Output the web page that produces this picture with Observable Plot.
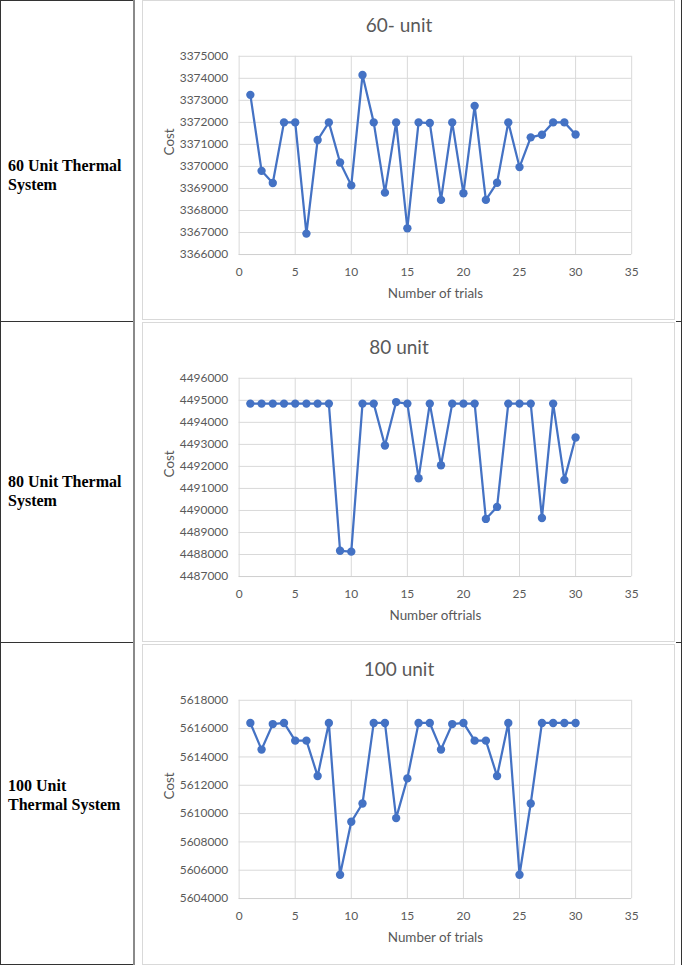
<!DOCTYPE html>
<html>
<head>
<meta charset="utf-8">
<script src="https://cdn.jsdelivr.net/npm/d3@7"></script>
<script src="https://cdn.jsdelivr.net/npm/@observablehq/plot@0.6"></script>
<style>
  html, body { margin: 0; padding: 0; background: #fff; }
  #page { position: relative; width: 685px; height: 965px; overflow: hidden; background: #fff; }
  .ln { position: absolute; }
  .rowlabel { position: absolute; left: 8px; width: 124px; font-family: "Liberation Serif", "Times New Roman", serif; font-weight: bold; font-size: 16px; line-height: 19px; color: #000; }
  .chart { position: absolute; left: 142px; width: 533px; height: 320px; border: 1px solid #d9d9d9; box-sizing: border-box; }
  .chart svg { position: absolute; left: 0; top: 0; }
  .ctitle { position: absolute; left: 0; width: 512px; text-align: center; top: 12px; font-family: Lato, "Open Sans", sans-serif; font-size: 19px; color: #595959; }
</style>
</head>
<body>
<div id="page"></div>
<script>
// ---- data ----
const trials = [1,2,3,4,5,6,7,8,9,10,11,12,13,14,15,16,17,18,19,20,21,22,23,24,25,26,27,28,29,30];

const cost60 = [3373250,3369800,3369250,3372000,3372000,3366950,3371200,3372000,3370180,3369140,
                3374150,3372000,3368810,3372000,3367190,3372000,3371970,3368480,3372000,3368780,
                3372750,3368480,3369260,3372000,3369970,3371320,3371440,3372000,3372000,3371450];

const cost80 = [4494850,4494850,4494850,4494850,4494850,4494850,4494850,4494850,4488170,4488130,
                4494850,4494850,4492950,4494920,4494850,4491460,4494850,4492050,4494850,4494850,
                4494850,4489615,4490160,4494850,4494850,4494850,4489660,4494850,4491390,4493310];

const cost100 = [5616400,5614520,5616320,5616400,5615150,5615150,5612650,5616400,5605680,5609420,
                 5610710,5616400,5616400,5609680,5612485,5616400,5616400,5614520,5616320,5616400,
                 5615150,5615150,5612650,5616400,5605680,5610710,5616400,5616400,5616400,5616400];

const xTicks = [0,5,10,15,20,25,30,35];
const yTicks60 = [3366000,3367000,3368000,3369000,3370000,3371000,3372000,3373000,3374000,3375000];
const yTicks80 = [4487000,4488000,4489000,4490000,4491000,4492000,4493000,4494000,4495000,4496000];
const yTicks100 = [5604000,5606000,5608000,5610000,5612000,5614000,5616000,5618000];

const chartTitles = ["60- unit", "80 unit", "100 unit"];
const xLabels = ["Number of trials", "Number oftrials", "Number of trials"];
const yLabel = "Cost";
const rowLabels = [["60 Unit Thermal", "System"], ["80 Unit Thermal", "System"], ["100 Unit", "Thermal System"]];

// ---- layout ----
const page = document.getElementById("page");
function line(x, y, w, h, color) {
  const d = document.createElement("div");
  d.className = "ln";
  Object.assign(d.style, {left: x + "px", top: y + "px", width: w + "px", height: h + "px", background: color});
  page.appendChild(d);
}

const rowTops = [0, 322, 644];
const labelTops = [156, 472, 776];
const series = [cost60, cost80, cost100];
const yTickSets = [yTicks60, yTicks80, yTicks100];

rowTops.forEach((top, i) => {
  const chart = document.createElement("div");
  chart.className = "chart";
  chart.style.top = top + "px";
  chart.style.height = (i === 2 ? 321 : 320) + "px";
  page.appendChild(chart);

  const ticks = yTickSets[i];
  const data = trials.map((t, k) => ({trial: t, cost: series[i][k]}));

  const plot = Plot.plot({
    width: 533,
    height: 320,
    marginLeft: 96,
    marginRight: 43,
    marginTop: 55,
    marginBottom: 66,
    style: {fontFamily: "Lato, 'Open Sans', sans-serif", fontSize: "12px", color: "#595959", background: "transparent"},
    x: {domain: [0, 35], ticks: xTicks, label: null},
    y: {domain: [ticks[0], ticks[ticks.length - 1]], ticks: ticks, label: null},
    marks: [
      Plot.gridX(xTicks, {stroke: "#d9d9d9", strokeOpacity: 1, strokeWidth: 1}),
      Plot.gridY(ticks, {stroke: "#d9d9d9", strokeOpacity: 1, strokeWidth: 1}),
      Plot.ruleY([ticks[0]], {stroke: "#d0d0d0", strokeWidth: 1}),
      Plot.axisX(xTicks, {tickSize: 0, tickPadding: 13, tickFormat: d => String(d), fill: "#595959", fontSize: 12, label: null}),
      Plot.axisY(ticks, {tickSize: 0, tickPadding: 11, tickFormat: d => String(d), fill: "#595959", fontSize: 12, label: null}),
      Plot.line(data, {x: "trial", y: "cost", stroke: "#4472C4", strokeWidth: 2.25, strokeLinejoin: "round"}),
      Plot.dot(data, {x: "trial", y: "cost", fill: "#4472C4", r: 4.2}),
      Plot.text([xLabels[i]], {frameAnchor: "bottom", dy: 44, text: d => d, fontSize: 13.5, fill: "#595959"}),
      Plot.text([yLabel], {frameAnchor: "left", dx: -70, rotate: -90, text: d => d, fontSize: 13.5, fill: "#595959"})
    ]
  });
  chart.appendChild(plot);

  const t = document.createElement("div");
  t.className = "ctitle";
  t.textContent = chartTitles[i];
  chart.appendChild(t);

  const lab = document.createElement("div");
  lab.className = "rowlabel";
  lab.style.top = labelTops[i] + "px";
  lab.innerHTML = rowLabels[i].join("<br>");
  page.appendChild(lab);
});

// table lines
line(0, 0, 134, 1, "#333");
line(0, 321, 134, 1, "#333");
line(0, 642, 134, 1, "#333");
line(0, 964, 134, 1, "#333");
line(0, 0, 1, 965, "#333");
line(133, 0, 2, 965, "#8a8a8a");
line(681, 0, 1, 965, "#333");
line(676, 321, 6, 1, "#333");
line(676, 642, 6, 1, "#333");
</script>
</body>
</html>
